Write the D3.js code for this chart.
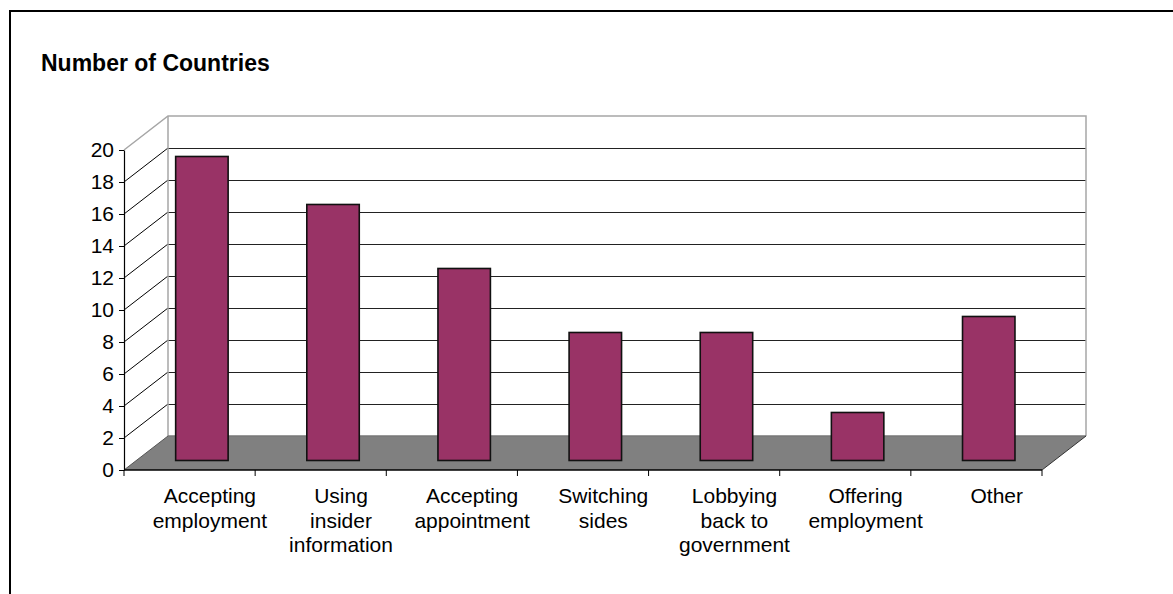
<!DOCTYPE html>
<html>
<head>
<meta charset="utf-8">
<script src="https://cdn.jsdelivr.net/npm/d3@7"></script>
<style>
  html, body { margin: 0; padding: 0; background: #fff; }
  svg { display: block; }
</style>
</head>
<body>
<svg id="chart" width="1173" height="594"></svg>
<script>
// Post-employment restrictions: number of countries per restriction type
const categories = [
  "Accepting\nemployment",
  "Using\ninsider\ninformation",
  "Accepting\nappointment",
  "Switching\nsides",
  "Lobbying\nback to\ngovernment",
  "Offering\nemployment",
  "Other"
];
const values = [19, 16, 12, 8, 8, 3, 9];
const yTicks = [0, 2, 4, 6, 8, 10, 12, 14, 16, 18, 20];
const yMax = 20;
const title = "Number of Countries";

const FONT = "'Liberation Sans', Arial, Helvetica, sans-serif";
const svg = d3.select("#chart");

// outer frame (runs off the right and bottom edges)
svg.append("rect")
  .attr("x", 10).attr("y", 11)
  .attr("width", 1300).attr("height", 800)
  .attr("fill", "none").attr("stroke", "#000").attr("stroke-width", 2);

// front plane of the 3-D box and the depth offset toward the back wall
const plot = { left: 124, right: 1042, bottom: 470, top: 150 };
const depth = { dx: 44, dy: -34 };
const barDepth = 0.28; // bars sit a little behind the front edge of the floor

const x = d3.scaleBand().domain(categories).range([plot.left, plot.right]);
const y = d3.scaleLinear().domain([0, yMax]).range([plot.bottom, plot.top]);
const bw = x.bandwidth();

const g = svg.append("g");

// back wall
g.append("rect")
  .attr("x", plot.left + depth.dx)
  .attr("y", y(yMax) + depth.dy)
  .attr("width", plot.right - plot.left)
  .attr("height", y(0) - y(yMax))
  .attr("fill", "#fff");

// side wall
g.append("polygon")
  .attr("points", [
    [plot.left, y(0)], [plot.left, y(yMax)],
    [plot.left + depth.dx, y(yMax) + depth.dy], [plot.left + depth.dx, y(0) + depth.dy]
  ].map(p => p.join(",")).join(" "))
  .attr("fill", "#fff");

// gridlines on the back wall and the side wall
const inner = yTicks.filter(t => t > 0 && t < yMax);
g.selectAll("line.grid-back").data(inner).join("line")
  .attr("class", "grid-back")
  .attr("x1", plot.left + depth.dx).attr("x2", plot.right + depth.dx)
  .attr("y1", d => Math.round(y(d) + depth.dy) + 0.5)
  .attr("y2", d => Math.round(y(d) + depth.dy) + 0.5)
  .attr("stroke", "#222").attr("stroke-width", 1);
g.selectAll("line.grid-side").data(inner).join("line")
  .attr("class", "grid-side")
  .attr("x1", plot.left).attr("y1", d => y(d))
  .attr("x2", plot.left + depth.dx).attr("y2", d => y(d) + depth.dy)
  .attr("stroke", "#000").attr("stroke-width", 1);

// wall edges
const edge = "#a6a6a6";
g.append("path")
  .attr("d", d3.line()([
    [plot.left, y(yMax)],
    [plot.left + depth.dx, y(yMax) + depth.dy],
    [plot.right + depth.dx, y(yMax) + depth.dy],
    [plot.right + depth.dx, y(0) + depth.dy]
  ]))
  .attr("fill", "none").attr("stroke", edge).attr("stroke-width", 1.5);
g.append("line")
  .attr("x1", plot.left + depth.dx).attr("x2", plot.left + depth.dx)
  .attr("y1", y(yMax) + depth.dy).attr("y2", y(0) + depth.dy)
  .attr("stroke", edge).attr("stroke-width", 1.5);

// floor
g.append("polygon")
  .attr("points", [
    [plot.left, y(0)], [plot.right, y(0)],
    [plot.right + depth.dx, y(0) + depth.dy], [plot.left + depth.dx, y(0) + depth.dy]
  ].map(p => p.join(",")).join(" "))
  .attr("fill", "#808080");
g.append("line")
  .attr("x1", plot.left + depth.dx).attr("x2", plot.right + depth.dx)
  .attr("y1", y(0) + depth.dy).attr("y2", y(0) + depth.dy)
  .attr("stroke", "#777").attr("stroke-width", 1.5);
g.append("line")
  .attr("x1", plot.right).attr("y1", y(0))
  .attr("x2", plot.right + depth.dx).attr("y2", y(0) + depth.dy)
  .attr("stroke", "#333").attr("stroke-width", 1);
g.append("line")
  .attr("x1", plot.left).attr("y1", y(0))
  .attr("x2", plot.left + depth.dx).attr("y2", y(0) + depth.dy)
  .attr("stroke", "#555").attr("stroke-width", 1);

// bars
const shiftX = barDepth * depth.dx, shiftY = barDepth * depth.dy;
g.selectAll("rect.bar").data(values).join("rect")
  .attr("class", "bar")
  .attr("x", (d, i) => x(categories[i]) + bw * 0.3 + shiftX)
  .attr("y", d => y(d) + shiftY)
  .attr("width", bw * 0.4)
  .attr("height", d => y(0) - y(d))
  .attr("fill", "#993366")
  .attr("stroke", "#111").attr("stroke-width", 1.6);

// y axis
const yAxis = g.append("g")
  .attr("transform", `translate(${plot.left},0)`)
  .call(d3.axisLeft(y).tickValues(yTicks).tickSize(5).tickPadding(5).tickSizeOuter(0));
yAxis.select(".domain").attr("stroke", "#000").attr("stroke-width", 1.2);
yAxis.selectAll(".tick line").attr("stroke", "#000");
yAxis.selectAll(".tick text")
  .attr("font-family", FONT).attr("font-size", 21).attr("fill", "#000");

// category axis: baseline and boundary ticks
g.append("line")
  .attr("x1", plot.left).attr("x2", plot.right)
  .attr("y1", y(0)).attr("y2", y(0))
  .attr("stroke", "#000").attr("stroke-width", 1.5);
const bounds = categories.map(c => x(c)).concat([plot.right]);
g.selectAll("line.xtick").data(bounds).join("line")
  .attr("class", "xtick")
  .attr("x1", d => d).attr("x2", d => d)
  .attr("y1", y(0)).attr("y2", y(0) + 6)
  .attr("stroke", "#000").attr("stroke-width", 1);

// category labels
const labels = g.selectAll("text.cat").data(categories).join("text")
  .attr("class", "cat")
  .attr("font-family", FONT).attr("font-size", 21).attr("fill", "#000")
  .attr("text-anchor", "middle");
labels.each(function (d) {
  const cx = x(d) + bw / 2 + shiftX + 8;
  d3.select(this).selectAll("tspan").data(d.split("\n")).join("tspan")
    .attr("x", cx)
    .attr("y", (s, i) => 503 + i * 24.5)
    .text(s => s);
});

// title
svg.append("text")
  .attr("x", 41).attr("y", 71)
  .attr("font-family", FONT).attr("font-size", 23).attr("font-weight", "bold")
  .attr("fill", "#000")
  .text(title);
</script>
</body>
</html>
